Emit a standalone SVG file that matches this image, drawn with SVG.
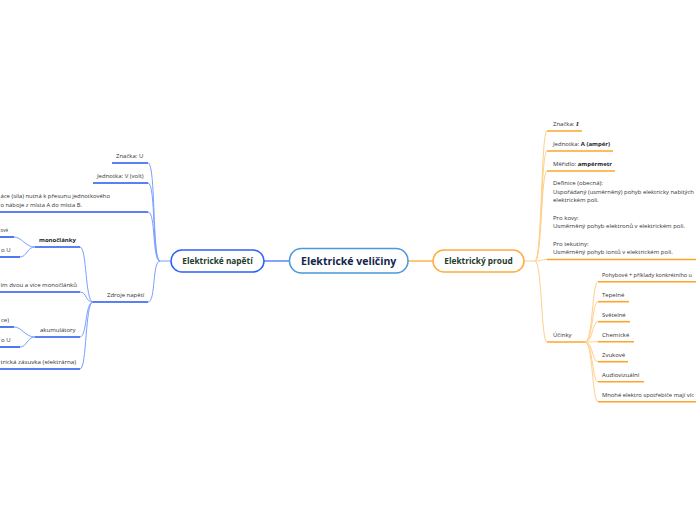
<svg xmlns="http://www.w3.org/2000/svg" width="696" height="520" viewBox="0 0 696 520">
<style>
.t{font-family:"Open Sans","Noto Sans","DejaVu Sans",sans-serif;font-size:6px;fill:#333}
.b{font-weight:bold;fill:#222}
.ub{stroke:#2456f0;stroke-width:1.6;fill:none}
.cb{stroke:#7a9dff;stroke-width:1;fill:none}
.uo{stroke:#ffa42b;stroke-width:1.6;fill:none}
.co{stroke:#ffcf8a;stroke-width:1;fill:none}
.nl{font-family:"Open Sans","Noto Sans",sans-serif;font-weight:bold;fill:#1c3b2c;text-anchor:middle}
</style>
<rect width="696" height="520" fill="#ffffff"/>
<g id="connectors">
  <path d="M264,261 L290,261" stroke="#5b86f5" stroke-width="1.5" fill="none"/>
  <path d="M408,261 L433,261" stroke="#ffb347" stroke-width="1.5" fill="none"/>
  <path d="M171,261 L160,261" class="cb"/>
  <path d="M160,261 C152,261 156,163 148,163" class="cb"/>
  <path d="M160,261 C152,261 156,183 148,183" class="cb"/>
  <path d="M160,261 C152,261 156,212 148,212" class="cb"/>
  <path d="M160,261 C152,261 156,302 148,302" class="cb"/>
  <path d="M93,302 C85,302 87,247 80,247" class="cb"/>
  <path d="M93,302 C85,302 87,292 80,292" class="cb"/>
  <path d="M93,302 C85,302 87,337 80,337" class="cb"/>
  <path d="M93,302 C85,302 87,369 80,369" class="cb"/>
  <path d="M35,247 C25,247 22,237 14,237" class="cb"/>
  <path d="M35,247 C27,247 27,257 20,257" class="cb"/>
  <path d="M35,337 C25,337 22,327 14,327" class="cb"/>
  <path d="M35,337 C27,337 27,347 20,347" class="cb"/>
  <path d="M524,261 L535,261" class="co"/>
  <path d="M535,261 C542,261 541,131 547,131" class="co"/>
  <path d="M535,261 C542,261 541,151 547,151" class="co"/>
  <path d="M535,261 C542,261 541,171 547,171" class="co"/>
  <path d="M535,261 C542,261 541,259.5 547,259.5" class="co"/>
  <path d="M535,261 C542,261 541,342 547,342" class="co"/>
  <path d="M585,342 C593,342 592,281.7 598,281.7" class="co"/>
  <path d="M585,342 C593,342 592,301.7 598,301.7" class="co"/>
  <path d="M585,342 C593,342 592,321.7 598,321.7" class="co"/>
  <path d="M585,342 C593,342 592,341.7 598,341.7" class="co"/>
  <path d="M585,342 C593,342 592,361.7 598,361.7" class="co"/>
  <path d="M585,342 C593,342 592,381.7 598,381.7" class="co"/>
  <path d="M585,342 C593,342 592,401.7 598,401.7" class="co"/>
</g>
<g id="center">
  <rect x="289.5" y="248.5" width="118.5" height="24.5" rx="12" fill="#fff" stroke="#4a98de" stroke-width="1.5"/>
  <text x="348.7" y="265.4" font-family="Open Sans,Noto Sans,sans-serif" font-weight="bold" font-size="10.5" fill="#14254a" text-anchor="middle">Elektrické veličiny</text>
</g>
<g id="napeti">
  <rect x="171" y="250" width="93" height="22" rx="11" fill="#fff" stroke="#2d62f5" stroke-width="1.5"/>
  <text x="217.5" y="264" class="nl" font-size="8.3">Elektrické napětí</text>
</g>
<g id="proud">
  <rect x="433" y="250" width="91" height="22" rx="11" fill="#fff" stroke="#ffab3d" stroke-width="1.5"/>
  <text x="478.5" y="264" class="nl" font-size="8.3">Elektrický proud</text>
</g>
<g id="n-znacka-u">
  <line x1="112" y1="163" x2="148" y2="163" class="ub"/>
  <text x="116" y="157.5" class="t">Značka: U</text>
</g>
<g id="n-jednotka-v">
  <line x1="93" y1="183" x2="148" y2="183" class="ub"/>
  <text x="97" y="177.5" class="t">Jednotka: V (volt)</text>
</g>
<g id="n-definice-u">
  <line x1="0" y1="212" x2="148" y2="212" class="ub"/>
  <text x="0.5" y="197.5" class="t" textLength="109.5" lengthAdjust="spacingAndGlyphs">áce (síla) nutná k přesunu jednotkového</text>
  <text x="0.5" y="206.5" class="t" textLength="81.5" lengthAdjust="spacingAndGlyphs">o náboje z místa A do místa B.</text>
</g>
<g id="n-zdroje">
  <line x1="93" y1="302" x2="148" y2="302" class="ub"/>
  <text x="107" y="297" class="t">Zdroje napětí</text>
</g>
<g id="n-monoclanky">
  <line x1="35" y1="247" x2="80" y2="247" class="ub"/>
  <text x="39" y="242" class="t b">monočlánky</text>
</g>
<g id="n-ove">
  <line x1="0" y1="237" x2="14" y2="237" class="ub"/>
  <text x="0.5" y="232" class="t" textLength="7.5" lengthAdjust="spacingAndGlyphs">ové</text>
</g>
<g id="n-ou1">
  <line x1="0" y1="257" x2="20" y2="257" class="ub"/>
  <text x="1" y="252" class="t">o U</text>
</g>
<g id="n-baterie">
  <line x1="0" y1="292" x2="80" y2="292" class="ub"/>
  <text x="0.5" y="286.5" class="t" textLength="76.5" lengthAdjust="spacingAndGlyphs">ím dvou a více monočlánků</text>
</g>
<g id="n-akumulatory">
  <line x1="35" y1="337" x2="80" y2="337" class="ub"/>
  <text x="40" y="332" class="t">akumulátory</text>
</g>
<g id="n-ce">
  <line x1="0" y1="327" x2="14" y2="327" class="ub"/>
  <text x="1" y="321.5" class="t">ce)</text>
</g>
<g id="n-ou2">
  <line x1="0" y1="347" x2="20" y2="347" class="ub"/>
  <text x="1" y="341.5" class="t">o U</text>
</g>
<g id="n-zasuvka">
  <line x1="0" y1="369" x2="80" y2="369" class="ub"/>
  <text x="0.5" y="364" class="t" textLength="75.5" lengthAdjust="spacingAndGlyphs">trická zásuvka (elektrárna)</text>
</g>
<g id="n-znacka-i">
  <line x1="547" y1="131" x2="582" y2="131" class="uo"/>
  <text x="553" y="126" class="t">Značka: <tspan font-family="Liberation Serif,serif" font-style="italic" font-weight="bold" font-size="7" fill="#222">I</tspan></text>
</g>
<g id="n-jednotka-a">
  <line x1="547" y1="151" x2="613" y2="151" class="uo"/>
  <text x="553" y="146" class="t">Jednotka: <tspan class="b">A (ampér)</tspan></text>
</g>
<g id="n-meridlo">
  <line x1="547" y1="171" x2="615" y2="171" class="uo"/>
  <text x="553" y="165.5" class="t">Měřidlo: <tspan class="b">ampérmetr</tspan></text>
</g>
<g id="n-definice-i">
  <line x1="547" y1="259.5" x2="696" y2="259.5" class="uo"/>
  <text x="553" y="185" class="t">Definice (obecná):</text>
  <text x="553" y="194" class="t" textLength="141" lengthAdjust="spacingAndGlyphs">Uspořádaný (usměrněný) pohyb elektricky nabitých</text>
  <text x="553" y="202.3" class="t">elektrickém poli.</text>
  <text x="553" y="219.6" class="t">Pro kovy:</text>
  <text x="553" y="228.3" class="t">Usměrněný pohyb elektronů v elektrickém poli.</text>
  <text x="553" y="246.2" class="t">Pro tekutiny:</text>
  <text x="553" y="254" class="t">Usměrněný pohyb  iontů v elektrickém poli.</text>
</g>
<g id="n-ucinky">
  <line x1="547" y1="342" x2="585" y2="342" class="uo"/>
  <text x="553" y="337" class="t">Účinky</text>
</g>
<g id="n-pohybove">
  <line x1="598" y1="281.7" x2="696" y2="281.7" class="uo"/>
  <text x="602" y="277" class="t" textLength="90" lengthAdjust="spacingAndGlyphs">Pohybové + příklady konkrétního u</text>
</g>
<g id="n-tepelne">
  <line x1="598" y1="301.7" x2="629" y2="301.7" class="uo"/>
  <text x="602" y="297" class="t">Tepelné</text>
</g>
<g id="n-svetelne">
  <line x1="598" y1="321.7" x2="630" y2="321.7" class="uo"/>
  <text x="602" y="317" class="t">Světelné</text>
</g>
<g id="n-chemicke">
  <line x1="598" y1="341.7" x2="634" y2="341.7" class="uo"/>
  <text x="602" y="337" class="t">Chemické</text>
</g>
<g id="n-zvukove">
  <line x1="598" y1="361.7" x2="628" y2="361.7" class="uo"/>
  <text x="602" y="357" class="t">Zvukové</text>
</g>
<g id="n-audio">
  <line x1="598" y1="381.7" x2="644" y2="381.7" class="uo"/>
  <text x="602" y="377" class="t">Audiovizuální</text>
</g>
<g id="n-mnohe">
  <line x1="598" y1="401.7" x2="696" y2="401.7" class="uo"/>
  <text x="602" y="397" class="t" textLength="92" lengthAdjust="spacingAndGlyphs">Mnohé elektro spotřebiče mají víc</text>
</g>
</svg>
